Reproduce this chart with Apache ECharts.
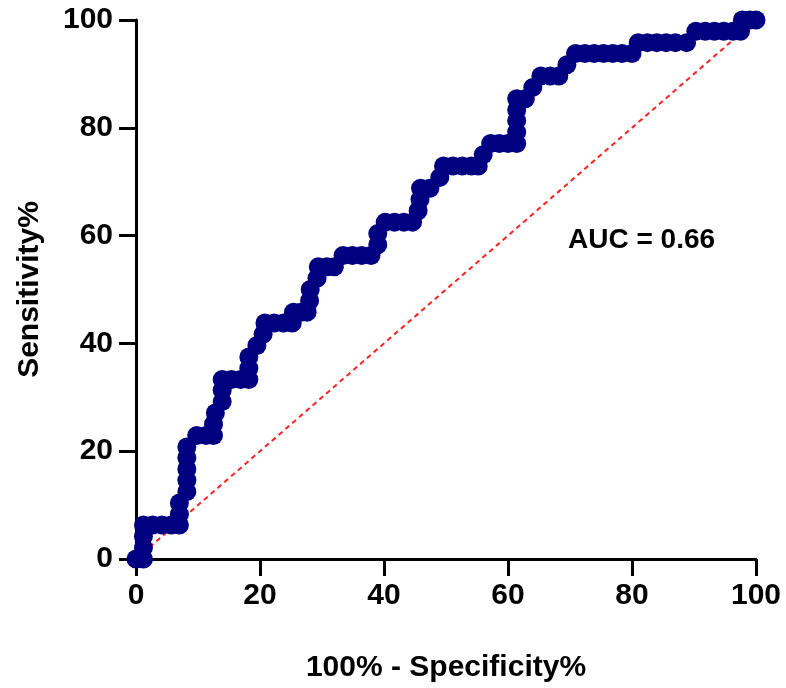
<!DOCTYPE html>
<html>
<head>
<meta charset="utf-8">
<script src="https://cdn.jsdelivr.net/npm/echarts@6/dist/echarts.min.js"></script>
<style>html,body{margin:0;padding:0;background:#fff}#c{width:786px;height:688px}</style>
</head>
<body>
<div id="c"></div>
<script>
// ROC curve points: 100% - Specificity% (x) and Sensitivity% (y)
const fprValues = [0,1.2,1.2,1.2,1.2,2.7,4.2,5.7,7,7,7,8.2,8.2,8.2,8.2,8.2,9.8,11.3,12.5,12.5,12.8,13.9,13.9,13.9,15.4,16.9,18.2,18.2,18.2,19.5,20.5,20.8,22.3,23.8,25.2,25.4,26.6,27.6,28,28.1,29.2,29.4,30.8,32,33.4,34.9,36.4,37.9,39,39,40.2,41.7,43.2,44.6,45.5,45.8,45.9,47.4,49,49.6,51.1,52.6,54.1,55.2,56,57.2,58.6,60,61.4,61.4,61.4,61.4,61.4,62.8,64,65.3,66.8,68.2,69.5,70.9,72.4,73.9,75.4,76.9,78.4,80,81,82.5,84,85.5,87,88.8,90.3,91.8,93.3,94.8,96.3,97.5,97.8,99,100];
const tprValues = [0,0,2.1,4.2,6.3,6.3,6.3,6.3,6.3,8.3,10.4,12.5,14.6,16.7,18.8,20.8,22.9,22.9,22.9,25,27.1,29.2,31.3,33.3,33.3,33.3,33.3,35.4,37.5,39.6,41.7,43.8,43.8,43.8,43.8,45.8,45.8,45.8,47.9,50,52.1,54.2,54.2,54.2,56.3,56.3,56.3,56.3,58.3,60.4,62.5,62.5,62.5,62.5,64.6,66.7,68.8,68.8,70.8,72.9,72.9,72.9,72.9,72.9,75,77.1,77.1,77.1,77.1,79.2,81.3,83.3,85.4,85.4,87.5,89.6,89.6,89.6,91.7,93.8,93.8,93.8,93.8,93.8,93.8,93.8,95.8,95.8,95.8,95.8,95.8,95.8,97.9,97.9,97.9,97.9,97.9,97.9,100,100,100];
// reference (chance) line
const diagX = [0, 100];
const diagY = [0, 100];
const xTicks = [0, 20, 40, 60, 80, 100];
const yTicks = [0, 20, 40, 60, 80, 100];
const aucText = 'AUC = 0.66';

const FONT = '"Liberation Sans", Arial, Helvetica, sans-serif';
const chart = echarts.init(document.getElementById('c'), null, {renderer: 'canvas'});
const axisCommon = {
  min: 0, max: 100, interval: 20,
  axisLine: {show: true, lineStyle: {color: '#000', width: 3}},
  axisTick: {show: true, inside: false, length: 17, lineStyle: {color: '#000', width: 3}},
  splitLine: {show: false},
  nameLocation: 'middle',
  nameTextStyle: {color: '#000', fontFamily: FONT, fontWeight: 'bold', fontSize: 30},
  axisLabel: {color: '#000', fontFamily: FONT, fontWeight: 'bold', fontSize: 30}
};
chart.setOption({
  animation: false,
  backgroundColor: '#fff',
  grid: {left: 136, right: 30, top: 20, bottom: 127},
  xAxis: Object.assign({}, axisCommon, {
    type: 'value', name: '100% - Specificity%', nameGap: 94,
    axisLabel: Object.assign({}, axisCommon.axisLabel, {margin: 22, formatter: v => xTicks.includes(v) ? String(v) : ''})
  }),
  yAxis: Object.assign({}, axisCommon, {
    type: 'value', name: 'Sensitivity%', nameGap: 91,
    axisLabel: Object.assign({}, axisCommon.axisLabel, {margin: 23, formatter: v => yTicks.includes(v) ? String(v) : ''})
  }),
  series: [
    {
      type: 'line', data: diagX.map((x, i) => [x, diagY[i]]),
      symbol: 'none', z: 1, clip: false,
      lineStyle: {color: '#ff2020', width: 2, type: [5, 4]}
    },
    {
      type: 'line', data: fprValues.map((x, i) => [x, tprValues[i]]),
      symbol: 'circle', symbolSize: 19, showSymbol: true, z: 3, clip: false,
      itemStyle: {color: '#000080'},
      lineStyle: {color: '#000080', width: 3}
    }
  ],
  graphic: [{
    type: 'text', left: 568, top: 226,
    style: {text: aucText, fill: '#000', font: 'bold 28px ' + FONT}
  }]
});
</script>
</body>
</html>
